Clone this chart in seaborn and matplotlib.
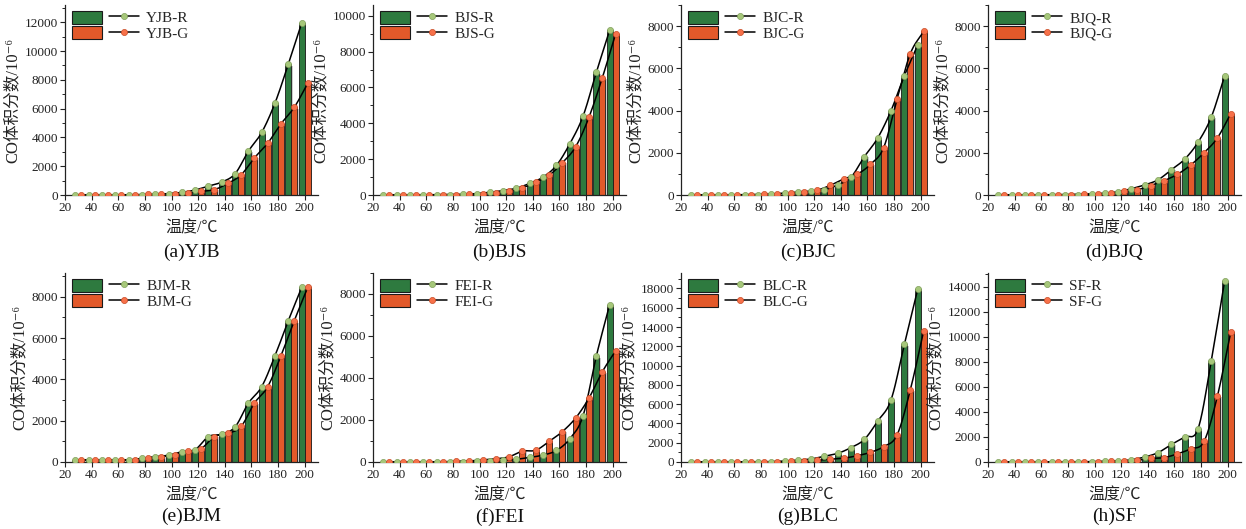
import numpy as np
import pandas as pd
import matplotlib
matplotlib.use("Agg")
import matplotlib.pyplot as plt
import seaborn as sns
from matplotlib.patches import Rectangle, Patch
from matplotlib.lines import Line2D
from matplotlib.legend_handler import HandlerTuple
from matplotlib.ticker import MultipleLocator

# ---------------- data ----------------
temperature = [30, 40, 50, 60, 70, 80, 90, 100, 110, 120, 130, 140, 150, 160, 170, 180, 190, 200]

yjb_r = [0, 0, 0, 0, 5, 15, 40, 100, 180, 350, 620, 900, 1480, 3050, 4350, 6400, 9100, 11950]
yjb_g = [0, 0, 0, 5, 20, 40, 60, 90, 150, 250, 380, 800, 1400, 2580, 3600, 4950, 6100, 7750]

bjs_r = [0, 0, 5, 10, 15, 20, 30, 80, 150, 250, 380, 650, 1000, 1650, 2850, 4400, 6850, 9200]
bjs_g = [0, 0, 5, 10, 15, 20, 40, 80, 130, 220, 400, 720, 1100, 1800, 2700, 4350, 6550, 9000]

bjc_r = [0, 5, 10, 10, 15, 20, 50, 80, 150, 180, 250, 480, 850, 1820, 2700, 4000, 5650, 7100]
bjc_g = [0, 0, 5, 5, 10, 30, 60, 80, 130, 230, 460, 760, 980, 1450, 2250, 4550, 6700, 7750]

bjq_r = [0, 0, 5, 5, 10, 15, 20, 40, 80, 150, 300, 480, 720, 1200, 1700, 2500, 3700, 5650]
bjq_g = [0, 0, 5, 5, 10, 20, 40, 60, 100, 180, 250, 450, 680, 980, 1420, 2000, 2700, 3850]

bjm_r = [100, 100, 100, 100, 100, 180, 260, 330, 500, 600, 1230, 1350, 1700, 2850, 3650, 5150, 6850, 8450]
bjm_g = [100, 100, 100, 100, 100, 170, 260, 350, 520, 650, 1230, 1380, 1720, 2850, 3650, 5150, 6850, 8450]

fei_r = [0, 0, 0, 0, 5, 10, 20, 30, 50, 80, 130, 220, 330, 550, 1100, 2200, 5050, 7500]
fei_g = [0, 0, 0, 0, 10, 30, 50, 100, 150, 250, 520, 560, 980, 1450, 2100, 3050, 4300, 5300]

blc_r = [0, 0, 0, 5, 10, 20, 40, 100, 200, 320, 600, 900, 1500, 2350, 4250, 6450, 12200, 17900]
blc_g = [0, 0, 0, 5, 10, 15, 20, 60, 100, 180, 300, 400, 650, 1000, 1600, 2800, 7500, 13600]

sf_r = [0, 0, 0, 0, 5, 10, 15, 20, 50, 80, 180, 400, 750, 1400, 2000, 2650, 8100, 14500]
sf_g = [0, 0, 0, 0, 5, 10, 15, 30, 60, 100, 150, 280, 350, 650, 1050, 1650, 5250, 10350]

samples = ["YJB", "BJS", "BJC", "BJQ", "BJM", "FEI", "BLC", "SF"]
panel_letters = ["a", "b", "c", "d", "e", "f", "g", "h"]
series_r = [yjb_r, bjs_r, bjc_r, bjq_r, bjm_r, fei_r, blc_r, sf_r]
series_g = [yjb_g, bjs_g, bjc_g, bjq_g, bjm_g, fei_g, blc_g, sf_g]
y_tops = [13200, 10600, 9000, 9000, 9150, 9000, 19600, 15100]
x_ticks = [20, 40, 60, 80, 100, 120, 140, 160, 180, 200]

# ---------------- style ----------------
GREEN = "#2e7a3f"
ORANGE = "#e2592a"
GREEN_MK = "#a6c77a"
ORANGE_MK = "#f7714a"
SHADOW = "#cdcdcd"

sns.set_style("ticks")
plt.rcParams["font.family"] = ["Liberation Serif", "Noto Sans CJK SC", "DejaVu Serif"]
plt.rcParams["axes.unicode_minus"] = False


def smooth_curve(x, y, n=16):
    """Catmull-Rom spline through the given points (visual smoothing only)."""
    x = np.asarray(x, float)
    y = np.asarray(y, float)
    px = np.concatenate([[2 * x[0] - x[1]], x, [2 * x[-1] - x[-2]]])
    py = np.concatenate([[2 * y[0] - y[1]], y, [2 * y[-1] - y[-2]]])
    xs, ys = [], []
    t = np.linspace(0, 1, n, endpoint=False)
    for i in range(1, len(px) - 2):
        p0, p1, p2, p3 = py[i - 1], py[i], py[i + 1], py[i + 2]
        q0, q1, q2, q3 = px[i - 1], px[i], px[i + 1], px[i + 2]
        t2, t3 = t * t, t * t * t
        ys.append(0.5 * (2 * p1 + (-p0 + p2) * t + (2 * p0 - 5 * p1 + 4 * p2 - p3) * t2 + (-p0 + 3 * p1 - 3 * p2 + p3) * t3))
        xs.append(0.5 * (2 * q1 + (-q0 + q2) * t + (2 * q0 - 5 * q1 + 4 * q2 - q3) * t2 + (-q0 + 3 * q1 - 3 * q2 + q3) * t3))
    xs.append([x[-1]])
    ys.append([y[-1]])
    return np.concatenate(xs), np.concatenate(ys)


W, H = 1246, 529
fig = plt.figure(figsize=(W / 100, H / 100), dpi=100)

lefts = [65, 373, 681, 988]
row_tops = [5, 273]
row_bottoms = [195, 462]
ax_w = 253

BAR_WIDTH = 0.9
offset = BAR_WIDTH * 10 / 4

for k, name in enumerate(samples):
    row, col = divmod(k, 4)
    left = lefts[col]
    top = row_tops[row]
    bottom = row_bottoms[row]
    ax = fig.add_axes([left / W, (H - bottom) / H, ax_w / W, (bottom - top) / H])

    r_vals = series_r[k]
    g_vals = series_g[k]
    df = pd.DataFrame({
        "T": temperature + temperature,
        "v": r_vals + g_vals,
        "s": ["R"] * len(temperature) + ["G"] * len(temperature),
    })
    sns.barplot(data=df, x="T", y="v", hue="s", hue_order=["R", "G"],
                palette=[GREEN, ORANGE], native_scale=True, width=BAR_WIDTH,
                gap=0, edgecolor="#1a1a1a", linewidth=0.6, errorbar=None,
                saturation=1, legend=False, ax=ax, zorder=2)

    # 3D-like shadow behind each bar
    for p in list(ax.patches):
        h = p.get_height()
        if h <= 0:
            continue
        ax.add_patch(Rectangle((p.get_x() + 1.0, 0), p.get_width(), h * 0.985,
                               facecolor=SHADOW, edgecolor="none", zorder=1))

    xr = np.asarray(temperature, float) - offset
    xg = np.asarray(temperature, float) + offset
    sx, sy = smooth_curve(xr, r_vals)
    ax.plot(sx, sy, color="black", lw=1.1, zorder=3)
    sx, sy = smooth_curve(xg, g_vals)
    ax.plot(sx, sy, color="black", lw=1.1, zorder=3)
    ax.plot(xr, r_vals, "o", ms=4.4, mfc=GREEN_MK, mec="#7f9f5a", mew=0.5, zorder=4)
    ax.plot(xg, g_vals, "o", ms=4.4, mfc=ORANGE_MK, mec="#c84a25", mew=0.5, zorder=4)

    ax.set_xlim(20, 210)
    ax.set_ylim(0, y_tops[k])
    ax.set_xticks(x_ticks)
    ax.set_xticklabels([str(t) for t in x_ticks])
    ax.yaxis.set_major_locator(MultipleLocator(2000))
    ax.yaxis.set_minor_locator(MultipleLocator(1000))
    ax.tick_params(axis="both", which="major", direction="out", length=3.5, width=0.8,
                   labelsize=9.5, pad=1.5, colors="#222222")
    ax.tick_params(axis="y", which="minor", direction="out", length=2, width=0.7)
    for s in ["top", "right"]:
        ax.spines[s].set_visible(False)
    for s in ["left", "bottom"]:
        ax.spines[s].set_linewidth(0.9)
        ax.spines[s].set_color("#222222")

    ax.set_xlabel("温度/℃", fontsize=11.5, labelpad=5, color="#222222")
    ax.set_ylabel("CO体积分数/10⁻⁶", fontsize=12, labelpad=3, color="#222222")
    ax.text(0.5, -0.30 if row == 0 else -0.29, f"({panel_letters[k]}){name}",
            transform=ax.transAxes, ha="center", va="center", fontsize=14,
            color="#111111")

    h_r = (Patch(facecolor=GREEN, edgecolor="#1a1a1a", lw=0.8),
           Line2D([], [], color="black", lw=1.1, marker="o", ms=4.4,
                  mfc=GREEN_MK, mec="#7f9f5a", mew=0.5))
    h_g = (Patch(facecolor=ORANGE, edgecolor="#1a1a1a", lw=0.8),
           Line2D([], [], color="black", lw=1.1, marker="o", ms=4.4,
                  mfc=ORANGE_MK, mec="#c84a25", mew=0.5))
    ax.legend([h_r, h_g], [f"{name}-R", f"{name}-G"],
              handler_map={tuple: HandlerTuple(ndivide=None, pad=0.45)},
              loc="upper left", bbox_to_anchor=(0.01, 0.995), frameon=False,
              fontsize=11, handlelength=4.4, handleheight=0.95,
              labelspacing=0.05, handletextpad=0.45, borderaxespad=0.2,
              borderpad=0.1)

fig.savefig("out.png", dpi=100)
